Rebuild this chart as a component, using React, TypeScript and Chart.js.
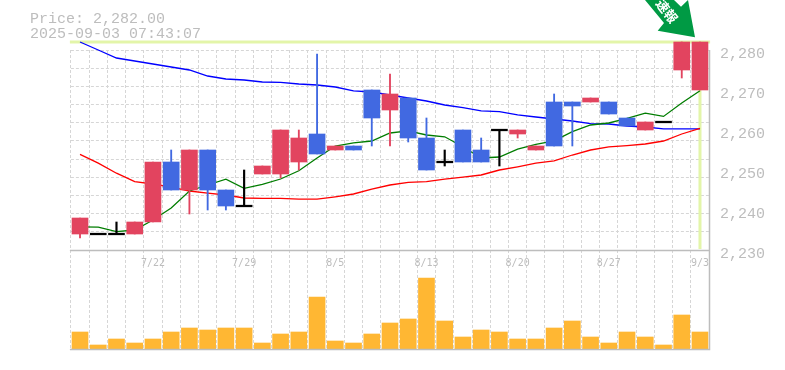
import React, { useEffect, useRef } from "react";
import { Chart, registerables } from "chart.js";

Chart.register(...registerables);

const dates = ["7/15","7/16","7/17","7/18","7/22","7/23","7/24","7/25","7/28","7/29","7/30","7/31","8/1","8/4","8/5","8/6","8/7","8/8","8/12","8/13","8/14","8/15","8/18","8/19","8/20","8/21","8/22","8/25","8/26","8/27","8/28","8/29","9/1","9/2","9/3"];
const shownDates = ["7/22","7/29","8/5","8/13","8/20","8/27","9/3"];
const priceLabels = [2230,2240,2250,2260,2270,2280];

const opens =  [2234,2234,2234,2234,2237,2252,2245,2255,2245,2241,2249,2249,2252,2259,2255,2256,2270,2265,2268,2258,2252,2260,2255,2260,2259,2255,2267,2267,2267,2267,2263,2260,2262,2275,2270];
const closes = [2238,2234,2234,2237,2252,2245,2255,2245,2241,2241,2251,2260,2258,2254,2256,2255,2263,2269,2258,2250,2252,2252,2252,2260,2260,2256,2256,2266,2268,2264,2261,2262,2262,2282,2282];
const highs =  [2238,2234,2237,2237,2252,2255,2255,2255,2245,2250,2251,2260,2260,2279,2256,2256,2270,2274,2268,2263,2255,2260,2258,2260,2260,2256,2269,2267,2268,2267,2263,2262,2262,2282,2282];
const lows =   [2233,2234,2234,2234,2237,2245,2239,2240,2240,2241,2249,2248,2250,2254,2255,2255,2256,2256,2257,2250,2251,2252,2252,2251,2258,2255,2256,2256,2267,2264,2261,2260,2262,2273,2270];

const maLong = [2282,2280,2278,2277.25,2276.5,2275.75,2275,2273.5,2272.75,2272.5,2272,2271.9,2271.5,2271.25,2270.75,2269.8,2269.5,2268.75,2268,2267.25,2266.25,2265.6,2264.8,2264.6,2263.8,2263.25,2262.75,2262.25,2261.6,2261.5,2261,2260.75,2260.3,2260.3,2260.3];
const maShort = [2235.8,2235.7,2234.6,2235,2237.5,2240.5,2244.75,2246.25,2247.7,2245.4,2246.4,2247.75,2249.8,2253,2256,2256.8,2257.25,2259.25,2259.8,2258.75,2258.3,2255.8,2253,2253.25,2255.2,2256.4,2257.3,2259.6,2261.25,2261.75,2262.9,2264.2,2263.4,2266.75,2269.8];
const maMid = [2253.9,2251.7,2249.2,2247.1,2246.5,2245.7,2244.75,2244.2,2243.75,2243,2242.9,2242.9,2242.7,2242.7,2243.3,2244,2245.2,2246.25,2246.9,2247.1,2247.7,2248.2,2248.75,2250,2250.8,2251.7,2252.3,2253.75,2255,2255.8,2256.1,2256.5,2257.25,2259,2260.4];

const volumes = [17,4,10,6,10,17,21,19,21,21,6,15,17,52,8,6,15,26,30,71,28,12,19,17,10,10,21,28,12,6,17,12,4,34,17];

const priceText = "Price: 2,282.00";
const timeText = "2025-09-03 07:43:07";
const badgeText = "速報";
const lastClose = closes[closes.length - 1];

const RED = "#e2445f";
const BLUE = "#4169e1";
const MONO = '"Liberation Mono", monospace';
const GRID = "#d6d6d6";
const AXIS = "#bdbdbd";
const TEXT = "#bdbdbd";
const CROSS = "#e3f5a9";

const gridTicks = Array.from({ length: 12 }, (_, k) => 2230 + (k * 50) / 11);

const isDoji = (i: number) => opens[i] === closes[i];
const colorOf = (i: number) => (isDoji(i) ? "#000000" : closes[i] > opens[i] ? RED : BLUE);

const frame = {
  id: "frame",
  beforeDatasetsDraw(chart: any) {
    const { ctx, chartArea: a, scales } = chart;
    const yTop = scales.y.getPixelForValue(lastClose);
    const xLast = scales.x.getPixelForValue(dates.length - 1);
    ctx.save();
    ctx.strokeStyle = CROSS;
    ctx.lineWidth = 3;
    ctx.beginPath();
    ctx.moveTo(a.left - 1, yTop);
    ctx.lineTo(a.right + 1, yTop);
    ctx.moveTo(xLast, yTop);
    ctx.lineTo(xLast, scales.y.bottom - 1);
    ctx.stroke();
    ctx.restore();
  },
  afterDatasetsDraw(chart: any) {
    const { ctx, chartArea: a, scales } = chart;
    const right = Math.round(a.right) + 0.5;
    ctx.save();
    ctx.strokeStyle = AXIS;
    ctx.lineWidth = 1.5;
    ctx.beginPath();
    ctx.moveTo(a.left - 1, scales.y.bottom + 0.5);
    ctx.lineTo(right, scales.y.bottom + 0.5);
    ctx.moveTo(a.left - 1, a.bottom + 0.5);
    ctx.lineTo(right, a.bottom + 0.5);
    ctx.lineTo(right, a.top);
    ctx.stroke();

    ctx.fillStyle = TEXT;
    ctx.font = `15px ${MONO}`;
    ctx.textBaseline = "alphabetic";
    ctx.textAlign = "left";
    ctx.fillText(priceText, 30, 23);
    ctx.fillText(timeText, 30, 38);

    ctx.fillStyle = "#009a44";
    ctx.beginPath();
    ctx.moveTo(645, 0);
    ctx.lineTo(664, 23);
    ctx.lineTo(657.7, 30.7);
    ctx.lineTo(695, 37.3);
    ctx.lineTo(688, 0);
    ctx.lineTo(681, 6.7);
    ctx.lineTo(674, 0);
    ctx.closePath();
    ctx.fill();

    ctx.translate(667, 11);
    ctx.rotate((52 * Math.PI) / 180);
    ctx.fillStyle = "#ffffff";
    ctx.font = 'bold 13px "Noto Sans CJK JP"';
    ctx.textAlign = "center";
    ctx.textBaseline = "middle";
    ctx.fillText(badgeText, 0, 0);
    ctx.restore();
  },
};

export default function App() {
  const ref = useRef<HTMLCanvasElement>(null);

  useEffect(() => {
    const chart = new Chart(ref.current as HTMLCanvasElement, {
      type: "bar",
      plugins: [frame],
      data: {
        labels: dates,
        datasets: [
          { type: "line", data: maLong, yAxisID: "y", borderColor: "#0000ff", borderWidth: 1.3, pointRadius: 0, tension: 0, clip: false, order: 10 },
          { type: "line", data: maMid, yAxisID: "y", borderColor: "#ff0000", borderWidth: 1.3, pointRadius: 0, tension: 0, clip: false, order: 9 },
          { type: "line", data: maShort, yAxisID: "y", borderColor: "#007d00", borderWidth: 1.3, pointRadius: 0, tension: 0, clip: false, order: 8 },
          {
            type: "bar", yAxisID: "y", grouped: false, clip: false, order: 3, barThickness: 1.2,
            data: dates.map((_, i) => (isDoji(i) ? null : [lows[i], highs[i]])),
            backgroundColor: dates.map((_, i) => colorOf(i)),
          },
          {
            type: "bar", yAxisID: "y", grouped: false, clip: false, order: 2, barThickness: 1.5,
            data: dates.map((_, i) => (isDoji(i) ? [lows[i], highs[i]] : null)),
            backgroundColor: "#000000",
          },
          {
            type: "bar", yAxisID: "y", grouped: false, clip: false, order: 1, barThickness: 16,
            data: dates.map((_, i) => (isDoji(i) ? [opens[i] - 0.2, opens[i] + 0.2] : [opens[i], closes[i]])),
            backgroundColor: dates.map((_, i) => colorOf(i)),
          },
          { type: "bar", yAxisID: "yVol", grouped: false, order: 4, barThickness: 16, data: volumes, backgroundColor: "#ffb733" },
        ],
      } as any,
      options: {
        responsive: false,
        animation: false,
        layout: { padding: { left: 70.9, top: 50, bottom: 21, right: 0 } },
        plugins: { legend: { display: false }, title: { display: false }, tooltip: { enabled: false } },
        scales: {
          x: {
            type: "category",
            offset: true,
            position: { yVol: 99 } as any,
            grid: { offset: true, color: GRID, lineWidth: 1, drawTicks: false },
            border: { display: false, dash: [3, 2] },
            ticks: {
              autoSkip: false,
              maxRotation: 0,
              padding: 7,
              color: TEXT,
              font: { family: '"DejaVu Sans Mono", monospace', size: 10 },
              callback(this: any, value: any) {
                const d = dates[value as number];
                return shownDates.includes(d) ? d : "";
              },
            },
          },
          y: {
            position: "right",
            stack: "panes",
            stackWeight: 200,
            min: 2230,
            max: 2280,
            afterFit(s: any) { s.width = 75.9; },
            afterBuildTicks(s: any) {
              const all = [...gridTicks, ...priceLabels.slice(1, -1)].sort((p, q) => p - q);
              s.ticks = all.map((value) => ({ value }));
            },
            grid: {
              drawTicks: false,
              lineWidth: 1,
              color: (c: any) => (gridTicks.some((g) => Math.abs(g - c.tick?.value) < 1e-6) ? GRID : "transparent"),
            },
            border: { display: false, dash: [3, 2] },
            ticks: {
              autoSkip: false,
              padding: 11,
              labelOffset: 4,
              color: TEXT,
              font: { family: MONO, size: 15 },
              callback: (v: any) => {
                const r = Number(v);
                return priceLabels.some((p) => Math.abs(p - r) < 1e-6) ? Math.round(r).toLocaleString("en-US") : "";
              },
            },
          } as any,
          yVol: {
            position: "right",
            stack: "panes",
            stackWeight: 99,
            min: 0,
            max: 99,
            afterFit(s: any) { s.width = 75.9; },
            grid: { display: false },
            border: { display: false },
            ticks: { display: false },
          } as any,
        },
      },
    } as any);
    return () => chart.destroy();
  }, []);

  return (
    <div style={{ position: "fixed", left: 0, top: 0 }}>
      <canvas ref={ref} width={785} height={370} style={{ display: "block" }} />
    </div>
  );
}
